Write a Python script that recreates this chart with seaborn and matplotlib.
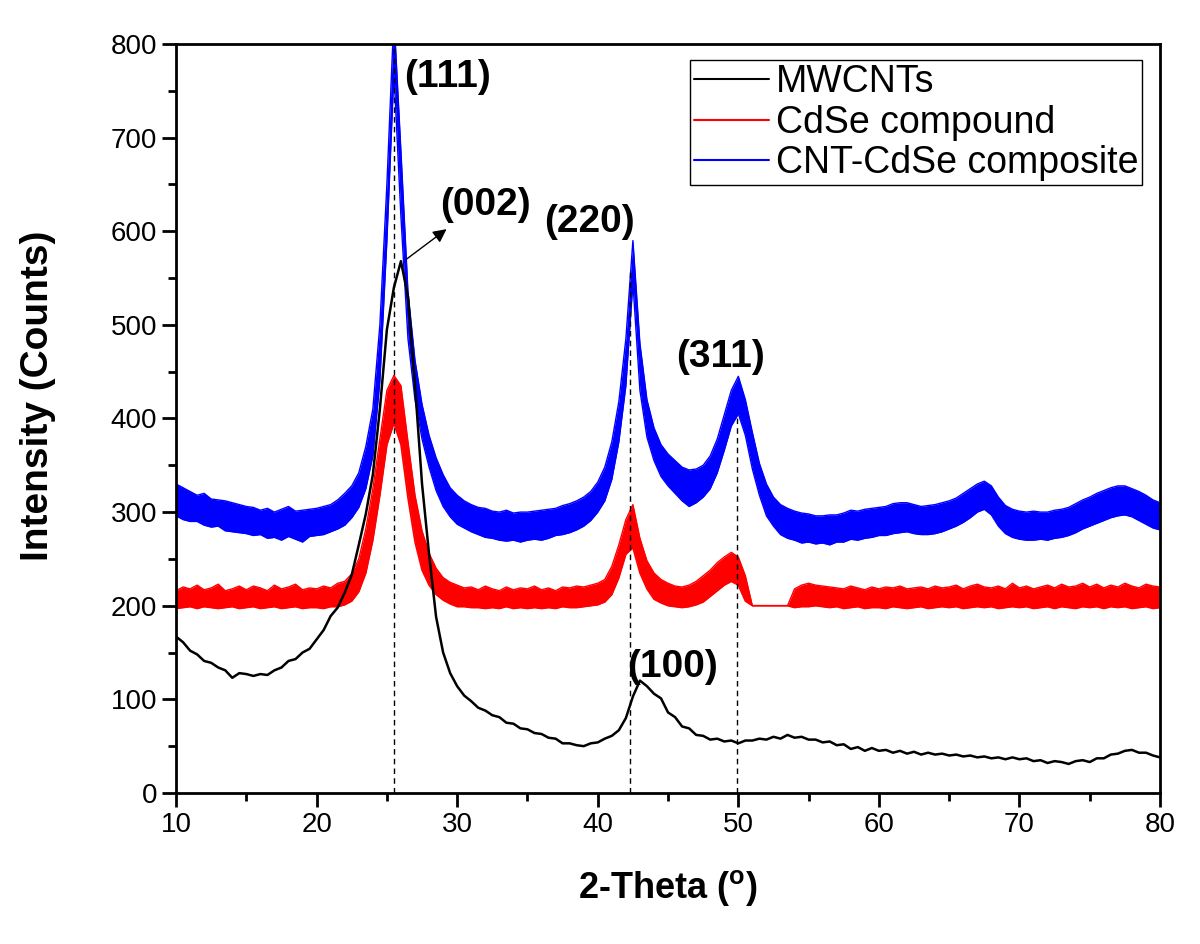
import numpy as np
import pandas as pd
import seaborn as sns
import matplotlib.pyplot as plt

# 2-theta grid, 0.5 deg steps from 10 to 80
two_theta = np.arange(10, 80.25, 0.5)

# MWCNTs (black)
mwcnt = [167, 161, 152, 148, 141, 139, 134, 131, 123, 128,
         127, 125, 127, 126, 131, 134, 141, 143, 150, 154,
         164, 174, 189, 198, 214, 233, 265, 298, 340, 410,
         495, 540, 568, 530, 435, 330, 255, 188, 150, 128,
         114, 104, 98, 91, 88, 83, 81, 75, 74, 69,
         68, 64, 63, 59, 58, 53, 53, 51, 50, 53,
         54, 58, 61, 67, 80, 103, 120, 114, 106, 101,
         86, 81, 71, 69, 62, 61, 57, 58, 55, 56,
         53, 56, 56, 58, 57, 60, 58, 62, 59, 60,
         57, 57, 54, 55, 51, 52, 47, 49, 45, 48,
         45, 46, 43, 45, 42, 44, 41, 43, 41, 42,
         40, 41, 39, 40, 38, 39, 37, 38, 36, 38,
         36, 37, 34, 35, 32, 34, 33, 31, 34, 35,
         33, 37, 37, 41, 42, 45, 46, 43, 43, 40,
         38]

# CdSe compound (red) lower / upper edge of noisy trace
cdse_lo = [197, 198, 199, 197, 199, 198, 197, 198, 199, 197,
           198, 199, 197, 198, 199, 197, 198, 199, 197, 198,
           198, 197, 199, 199, 201, 205, 215, 235, 270, 318,
           372, 395, 372, 315, 268, 238, 222, 212, 206, 202,
           199, 199, 198, 198, 197, 198, 197, 199, 197, 198,
           197, 198, 197, 198, 197, 199, 198, 198, 199, 200,
           201, 204, 212, 230, 255, 262, 235, 218, 207, 203,
           200, 199, 198, 199, 201, 204, 210, 216, 222, 226,
           222, 205, 200, 200, 200, 200, 200, 200, 198, 199,
           199, 200, 199, 198, 199, 197, 198, 199, 197, 198,
           198, 197, 199, 198, 197, 198, 199, 197, 198, 199,
           198, 199, 197, 198, 199, 198, 199, 197, 198, 199,
           198, 199, 197, 198, 199, 197, 199, 198, 197, 199,
           198, 199, 197, 199, 198, 199, 197, 198, 199, 197,
           198]
cdse_hi = [216, 220, 218, 222, 217, 219, 223, 216, 218, 221,
           217, 221, 219, 216, 222, 218, 220, 223, 217, 219,
           218, 221, 219, 224, 226, 234, 250, 282, 325, 378,
           430, 446, 435, 375, 318, 280, 256, 240, 230, 225,
           222, 219, 220, 217, 221, 218, 216, 220, 217, 219,
           218, 221, 217, 219, 216, 220, 219, 221, 220, 222,
           224, 228, 242, 265, 292, 308, 272, 248, 235, 228,
           224, 221, 220, 222, 226, 232, 238, 246, 252, 257,
           252, 232, 200, 200, 200, 200, 200, 200, 218, 222,
           224, 222, 221, 220, 219, 218, 221, 219, 217, 220,
           218, 220, 219, 221, 218, 219, 220, 218, 221, 219,
           220, 222, 218, 221, 223, 220, 219, 221, 218, 224,
           219, 221, 218, 220, 222, 219, 223, 220, 221, 224,
           220, 223, 219, 222, 220, 224, 221, 219, 223, 221,
           220]

# CNT-CdSe composite (blue) lower / upper edge of noisy trace
comp_lo = [296, 292, 290, 290, 286, 284, 285, 280, 279, 278,
           277, 275, 276, 272, 273, 270, 274, 271, 268, 274,
           275, 276, 279, 282, 286, 294, 305, 325, 360, 440,
           590, 770, 615, 485, 420, 378, 348, 323, 306, 295,
           287, 283, 279, 276, 273, 272, 270, 269, 270, 268,
           270, 271, 270, 272, 275, 276, 278, 281, 285, 291,
           300, 312, 335, 375, 435, 545, 430, 380, 355, 338,
           328, 320, 312, 306, 310, 316, 325, 342, 366, 392,
           405, 382, 346, 318, 296, 285, 276, 272, 270, 267,
           268, 266, 267, 265, 268, 268, 271, 270, 272, 273,
           275, 275, 277, 278, 279, 277, 276, 276, 277, 279,
           282, 285, 289, 294, 300, 303, 297, 285, 277, 273,
           271, 270, 270, 271, 270, 272, 273, 275, 278, 282,
           285, 288, 291, 294, 296, 297, 295, 291, 287, 283,
           281]
comp_hi = [330, 326, 322, 318, 320, 314, 313, 312, 310, 308,
           306, 305, 302, 304, 300, 303, 306, 301, 302, 303,
           304, 306, 308, 313, 320, 328, 342, 370, 410, 500,
           650, 830, 685, 535, 462, 415, 382, 358, 340, 326,
           318, 312, 308, 305, 304, 301, 300, 302, 299, 300,
           300, 301, 302, 303, 304, 307, 309, 312, 316, 322,
           332, 348, 375, 418, 485, 590, 480, 420, 390, 372,
           362, 355, 348, 345, 346, 350, 360, 378, 404, 430,
           445, 420, 385, 352, 330, 316, 308, 304, 301, 299,
           298, 296, 296, 297, 297, 299, 302, 301, 303, 304,
           305, 306, 309, 310, 310, 308, 306, 307, 308, 310,
           312, 315, 320, 325, 330, 333, 328, 316, 307, 303,
           301, 300, 301, 300, 300, 302, 303, 305, 309, 313,
           316, 320, 323, 326, 328, 328, 325, 322, 318, 313,
           310]

# peak positions (dashed guides) and their heights
peak_pos = [25.5, 42.3, 49.9]
peak_top = [800, 560, 400]

# reflection labels
labels = ["(111)", "(002)", "(220)", "(311)", "(100)"]
label_x = [29.3, 32.0, 39.4, 48.7, 45.3]
label_y = [765, 628, 610, 466, 135]

df = pd.DataFrame({"two_theta": two_theta, "mwcnt": mwcnt,
                   "cdse_lo": cdse_lo, "cdse_hi": cdse_hi,
                   "comp_lo": comp_lo, "comp_hi": comp_hi})

sns.set_style("ticks")
plt.rcParams['font.family'] = ['Liberation Sans', 'DejaVu Sans']
plt.rcParams['mathtext.default'] = 'regular'
for k in ['text.color', 'axes.labelcolor', 'xtick.color', 'ytick.color', 'axes.edgecolor']:
    plt.rcParams[k] = 'black'

fig = plt.figure(figsize=(12, 9.44), dpi=100)
ax = fig.add_axes([0.1467, 0.16, 0.82, 0.7934])

# blue composite
ax.fill_between(df["two_theta"], df["comp_lo"], df["comp_hi"], color="#0000ff", lw=0, zorder=1)
sns.lineplot(data=df, x="two_theta", y="comp_hi", color="#0000ff", lw=1, ax=ax, zorder=1)
sns.lineplot(data=df, x="two_theta", y="comp_lo", color="#0000ff", lw=1, ax=ax, zorder=1)

# red compound
ax.fill_between(df["two_theta"], df["cdse_lo"], df["cdse_hi"], color="#ff0000", lw=0, zorder=2)
sns.lineplot(data=df, x="two_theta", y="cdse_hi", color="#ff0000", lw=1, ax=ax, zorder=2)
sns.lineplot(data=df, x="two_theta", y="cdse_lo", color="#ff0000", lw=1.2, ax=ax, zorder=2)

# black MWCNTs
sns.lineplot(data=df, x="two_theta", y="mwcnt", color="black", lw=1.8, ax=ax, zorder=3)

for p, t in zip(peak_pos, peak_top):
    ax.plot([p, p], [0, t], color="black", lw=1, ls=(0, (4, 3)), zorder=4)

for s, lx, ly in zip(labels, label_x, label_y):
    ax.text(lx, ly, s, fontsize=28, fontweight="bold", ha="center", va="center", zorder=5)

ax.annotate("", xy=(29.4, 604), xytext=(26.2, 568),
            arrowprops=dict(arrowstyle="-|>", color="black", lw=1, mutation_scale=20), zorder=5)

# legend
h = [plt.Line2D([], [], color="black", lw=1.5),
     plt.Line2D([], [], color="#ff0000", lw=1.5),
     plt.Line2D([], [], color="#0000ff", lw=1.5)]
leg = ax.legend(h, ["MWCNTs", "CdSe compound", "CNT-CdSe composite"],
                loc="upper right", bbox_to_anchor=(0.982, 0.978), fontsize=27,
                frameon=True, fancybox=False, edgecolor="black", framealpha=1,
                handlelength=2.0, handletextpad=0.2, borderpad=0.1, labelspacing=0.12,
                borderaxespad=0)
leg.get_frame().set_linewidth(1)

ax.set_xlim(10, 80)
ax.set_ylim(0, 800)
ax.set_xticks(range(10, 81, 10))
ax.set_xticks(range(15, 80, 10), minor=True)
ax.set_yticks(range(0, 801, 100))
ax.set_yticks(range(50, 800, 100), minor=True)
ax.tick_params(axis="both", which="major", direction="out", length=10, width=2, labelsize=20)
ax.tick_params(axis="both", which="minor", direction="out", length=6, width=2)
ax.tick_params(top=False, right=False)
for sp in ax.spines.values():
    sp.set_linewidth(2)

ax.set_xlabel("2-Theta ($^{o}$)", fontsize=26, fontweight="bold", labelpad=22)
ax.set_ylabel("Intensity (Counts)", fontsize=28, fontweight="bold")
ax.yaxis.set_label_coords(-0.122, 0.53)

fig.savefig("out.png", dpi=100)
